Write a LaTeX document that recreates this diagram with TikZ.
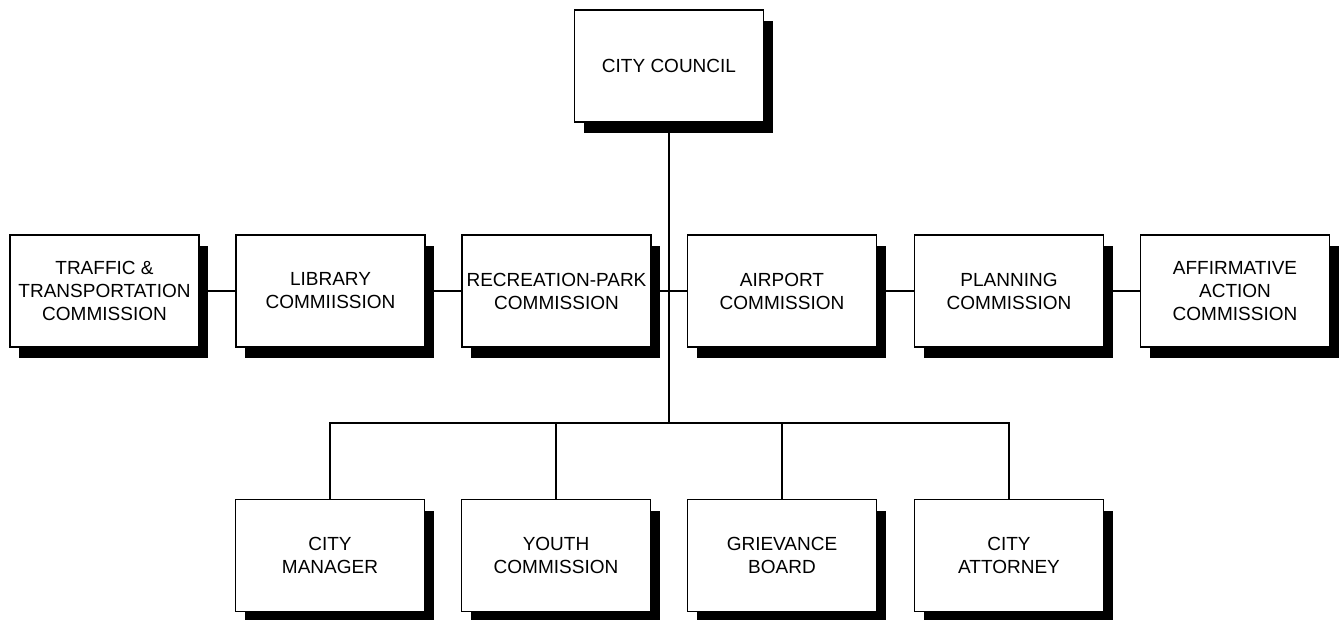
\documentclass[tikz,border=0pt]{standalone}
\usepackage{fontspec}
\setmainfont{Liberation Sans}
\usetikzlibrary{shadows}
\begin{document}
\begin{tikzpicture}[x=1pt,y=-1pt,
  orgbox/.style={draw=black, line width=1.6pt, fill=white, inner sep=0pt,
    minimum width=189pt, minimum height=112pt, align=center,
    font=\fontsize{19}{23}\selectfont,
    general shadow={fill=black, shadow xshift=9pt, shadow yshift=-11pt}},
  link/.style={draw=black, line width=1.6pt}]
\useasboundingbox (0,0) rectangle (1339,620);
% top
\node[orgbox] (council) at (669,66) {CITY COUNCIL};
% middle row
\node[orgbox] (traffic) at (104.5,291) {TRAFFIC \&\\TRANSPORTATION\\COMMISSION};
\node[orgbox] (library) at (330.5,291) {LIBRARY\\COMMIISSION};
\node[orgbox] (recreation) at (556.5,291) {RECREATION-PARK\\COMMISSION};
\node[orgbox] (airport) at (782,291) {AIRPORT\\COMMISSION};
\node[orgbox] (planning) at (1009,291) {PLANNING\\COMMISSION};
\node[orgbox] (affirm) at (1235,291) {AFFIRMATIVE\\ACTION\\COMMISSION};
% bottom row
\node[orgbox] (manager) at (330,555.5) {CITY\\MANAGER};
\node[orgbox] (youth) at (556,555.5) {YOUTH\\COMMISSION};
\node[orgbox] (grievance) at (782,555.5) {GRIEVANCE\\BOARD};
\node[orgbox] (attorney) at (1009,555.5) {CITY\\ATTORNEY};
% connectors
\coordinate (bus) at (669,423);
\draw[link] (council.south) -- (bus);
\draw[link] (traffic.east) -- (library.west);
\draw[link] (library.east) -- (recreation.west);
\draw[link] (recreation.east) -- (airport.west);
\draw[link] (airport.east) -- (planning.west);
\draw[link] (planning.east) -- (affirm.west);
\draw[link] (manager.north) |- (bus);
\draw[link] (attorney.north) |- (bus);
\draw[link] (youth.north) -- (youth.north |- bus);
\draw[link] (grievance.north) -- (grievance.north |- bus);
\end{tikzpicture}
\end{document}
